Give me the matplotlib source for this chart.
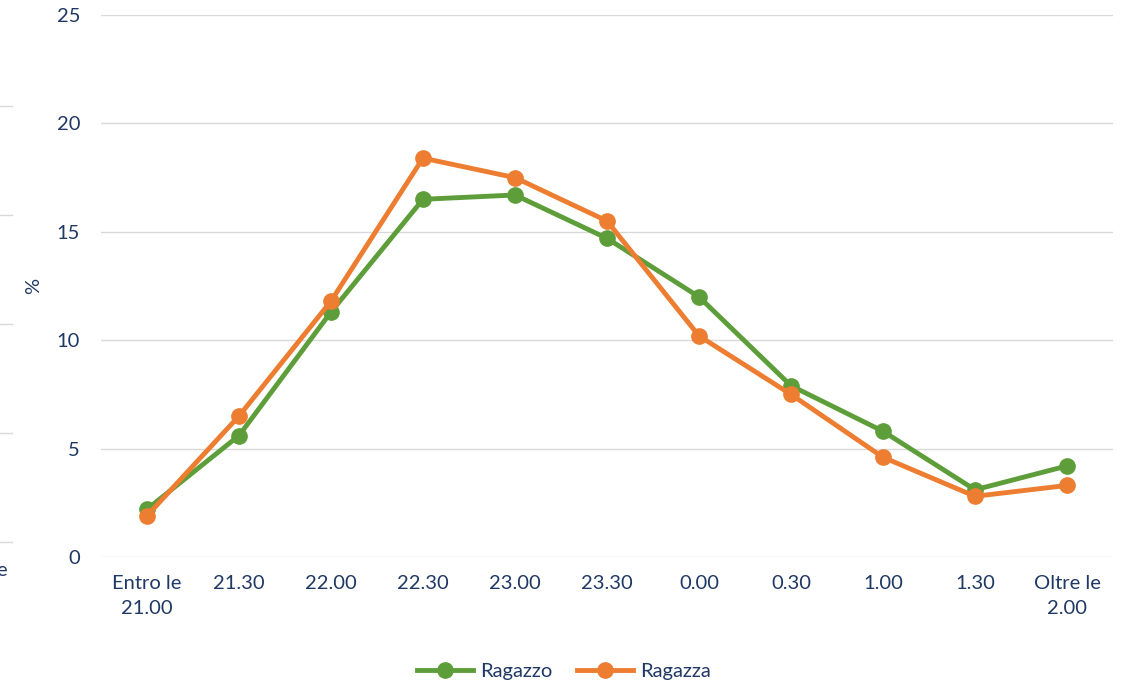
import matplotlib.pyplot as plt
from matplotlib.lines import Line2D

# Dati
orari = ["Entro le\n21.00", "21.30", "22.00", "22.30", "23.00", "23.30",
         "0.00", "0.30", "1.00", "1.30", "Oltre le\n2.00"]
ragazzo = [2.2, 5.6, 11.3, 16.5, 16.7, 14.7, 12.0, 7.9, 5.8, 3.1, 4.2]
ragazza = [1.9, 6.5, 11.8, 18.4, 17.5, 15.5, 10.2, 7.5, 4.6, 2.8, 3.3]

col_txt = "#1F3864"
verde = "#5E9E3A"
arancio = "#ED7D31"

plt.rcParams['font.family'] = ['Lato', 'DejaVu Sans']

fig = plt.figure(figsize=(11.28, 6.84), dpi=100)
ax = fig.add_axes([0.0895, 0.1857, 0.8972, 0.7923])

x = range(len(orari))
ax.plot(x, ragazzo, color=verde, lw=3.5, marker="o", ms=11, label="Ragazzo", zorder=3)
ax.plot(x, ragazza, color=arancio, lw=3.5, marker="o", ms=11, label="Ragazza", zorder=3)

ax.set_xlim(-0.5, len(orari) - 0.5)
ax.set_ylim(0, 25)
ax.set_yticks([0, 5, 10, 15, 20, 25])
ax.set_xticks(list(x))
ax.set_xticklabels(orari, linespacing=1.6)
ax.grid(axis="y", color="#D9D9D9", lw=1)
ax.set_axisbelow(True)
for s in ax.spines.values():
    s.set_visible(False)
ax.tick_params(axis="both", length=0, colors=col_txt, labelsize=14.5)
ax.tick_params(axis="y", pad=15)
ax.tick_params(axis="x", pad=13)
ax.set_ylabel("%", color=col_txt, fontsize=14.5)
ax.yaxis.set_label_coords(-0.058, 0.5)

fig.legend(*ax.get_legend_handles_labels(), loc="center",
           bbox_to_anchor=(0.5, 1 - 671 / 684), ncol=2, frameon=False,
           fontsize=14.5, labelcolor=col_txt, handlelength=2.75, handletextpad=0.35,
           columnspacing=1.25)

# residui del grafico adiacente sul bordo sinistro
for yp in [106, 215, 324, 433, 542]:
    fig.add_artist(Line2D([0, 12 / 1128], [1 - yp / 684, 1 - yp / 684],
                          color="#D9D9D9", lw=1))
fig.text(-0.003, 1 - 570 / 684, "e", color=col_txt, fontsize=14.5, va="center")

fig.savefig("out.png", dpi=100)
